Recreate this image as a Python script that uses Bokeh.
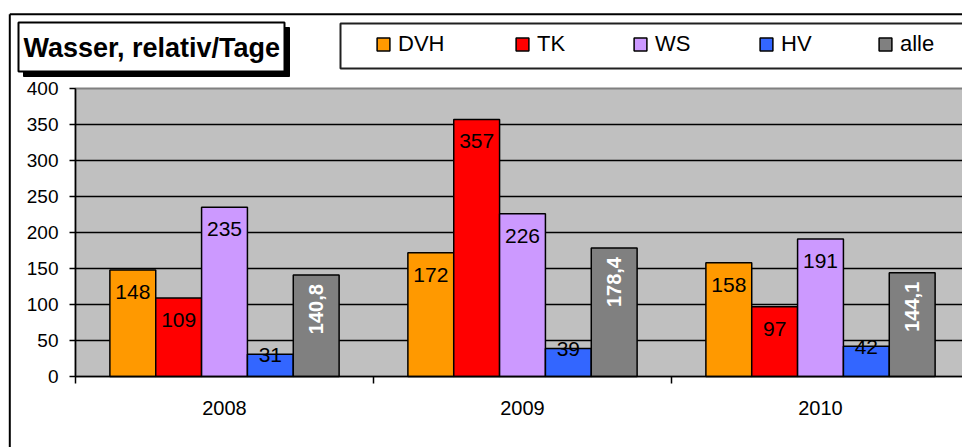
import math
from bokeh.plotting import figure
from bokeh.models import (ColumnDataSource, Range1d, FixedTicker, Legend, LegendItem,
                          LinearAxis)
from bokeh.embed import file_html
from bokeh.resources import INLINE
from bokeh.core.properties import value

# ---------------- data ----------------
years = ["2008", "2009", "2010"]
series = ["DVH", "TK", "WS", "HV", "alle"]
dvh = [148, 172, 158]
tk = [109, 357, 97]
ws = [235, 226, 191]
hv = [31, 39, 42]
alle = [140.8, 178.4, 144.1]
colors = ["#FF9900", "#FF0000", "#CC99FF", "#3366FF", "#808080"]
y_ticks = [0, 50, 100, 150, 200, 250, 300, 350, 400]
title_text = "Wasser, relativ/Tage"

values = [dvh, tk, ws, hv, alle]
FONT = "Liberation Sans"

# ---------------- geometry (page pixels) ----------------
W, H = 962, 447
PL, PT, PB = 75, 88, 376       # plot area left / top / bottom
cat_px = 298.0
ppu = (PB - PT) / (y_ticks[-1] - y_ticks[0])   # pixels per value unit
bar_w = 1 / 6.5
ncat = len(years)
legend_x = [375, 514, 632, 758, 877]            # legend swatch positions (layout)

p = figure(width=W, height=H, output_backend="svg", toolbar_location=None,
           x_range=Range1d(-PL / cat_px, (W - PL) / cat_px),
           y_range=Range1d(-(H - PB) / ppu, PB / ppu),
           x_axis_type=None, y_axis_type=None,
           min_border=0, min_border_left=0, min_border_right=0,
           min_border_top=0, min_border_bottom=0,
           outline_line_color=None, background_fill_color="white",
           border_fill_color="white")
p.title.visible = False
p.extra_x_ranges = {"px": Range1d(0, W)}
p.extra_y_ranges = {"py": Range1d(H, 0)}

# ---- outer chart border
p.segment(x0=[9.3, 9.3], y0=[13.7, 13.7], x1=[W + 5, 9.3], y1=[13.7, H + 5],
          line_color="black", line_width=2, x_range_name="px", y_range_name="py")

# ---- title box with shadow
p.quad(left=[23], right=[289], top=[27], bottom=[76], fill_color="black",
       line_color="black", x_range_name="px", y_range_name="py")
p.quad(left=[18], right=[284], top=[22], bottom=[71], fill_color="white",
       line_color="black", line_width=2, x_range_name="px", y_range_name="py")
p.text(x=[23], y=[47.5], text=[title_text], text_align="left",
       text_baseline="middle", text_font=value(FONT), text_font_style="bold",
       text_font_size="27px", text_color="black",
       x_range_name="px", y_range_name="py")

# ---- legend box
p.quad(left=[340], right=[W + 50], top=[23], bottom=[68], fill_color="white",
       line_color="#202020", line_width=2, x_range_name="px", y_range_name="py")

# ---- plot area and grid lines (data space)
p.quad(left=[0], right=[ncat], bottom=[y_ticks[0]], top=[y_ticks[-1]],
       fill_color="#C0C0C0", line_color="#808080", line_width=2)
grid_y = y_ticks[1:-1]
p.segment(x0=[0] * len(grid_y), x1=[ncat] * len(grid_y), y0=grid_y, y1=grid_y,
          line_color="black", line_width=1.5)

# ---- bars and labels
centers = [i + 0.5 for i in range(ncat)]
renderers = []
for k, (name, vals, col) in enumerate(zip(series, values, colors)):
    xs = [c + (k - 2) * bar_w for c in centers]
    if name == "alle":
        texts = [f"{v:.1f}".replace(".", ",") for v in vals]
    else:
        texts = [str(v) for v in vals]
    src = ColumnDataSource(dict(x=xs, top=vals, txt=texts))
    r = p.vbar(x="x", top="top", bottom=0, width=bar_w, source=src,
               fill_color=col, line_color="black", line_width=1.5)
    renderers.append(r)
    if name == "alle":
        p.text(x="x", y="top", text="txt", source=src, angle=math.pi / 2,
               text_align="right", text_baseline="middle", y_offset=9,
               text_font=value(FONT), text_font_style="bold",
               text_font_size="20px", text_color="white")
    elif name == "HV":
        p.text(x="x", y="top", text="txt", source=src,
               text_align="center", text_baseline="middle", y_offset=1,
               text_font=value(FONT), text_font_size="21px", text_color="black")
    else:
        p.text(x="x", y="top", text="txt", source=src,
               text_align="center", text_baseline="middle", y_offset=22,
               text_font=value(FONT), text_font_size="21px", text_color="black")

# ---- axes at fixed locations
ya = LinearAxis(fixed_location=0, bounds=(y_ticks[0], y_ticks[-1]),
                ticker=FixedTicker(ticks=y_ticks))
ya.minor_tick_line_color = None
ya.major_tick_in = 0
ya.major_tick_out = 6
ya.major_tick_line_width = 1.5
ya.axis_line_width = 1.5
ya.axis_line_color = "black"
ya.major_tick_line_color = "black"
ya.major_label_text_font = FONT
ya.major_label_text_font_size = "19px"
ya.major_label_text_color = "black"
ya.major_label_standoff = 11
p.add_layout(ya, "left")

xa = LinearAxis(fixed_location=0, bounds=(0, ncat),
                ticker=FixedTicker(ticks=centers, minor_ticks=list(range(ncat + 1))))
xa.major_label_overrides = {c: y for c, y in zip(centers, years)}
xa.major_tick_in = 0
xa.major_tick_out = 0
xa.minor_tick_in = 0
xa.minor_tick_out = 7
xa.minor_tick_line_color = "black"
xa.minor_tick_line_width = 1.5
xa.axis_line_width = 1.5
xa.axis_line_color = "black"
xa.major_label_text_font = FONT
xa.major_label_text_font_size = "20px"
xa.major_label_text_color = "black"
xa.major_label_standoff = 17
p.add_layout(xa, "below")

# ---- legend (one entry per series, placed like the original)
for s, r, lx in zip(series, renderers, legend_x):
    lg = Legend(items=[LegendItem(label=s, renderers=[r])],
                orientation="horizontal", location=(lx, H - 57),
                glyph_width=16, glyph_height=16, label_standoff=7,
                label_height=26, spacing=0, padding=0, margin=0,
                border_line_alpha=0, background_fill_alpha=0,
                label_text_font=FONT, label_text_font_size="22px",
                label_text_color="black")
    p.add_layout(lg)

open("out.html", "w").write(file_html(p, INLINE))
